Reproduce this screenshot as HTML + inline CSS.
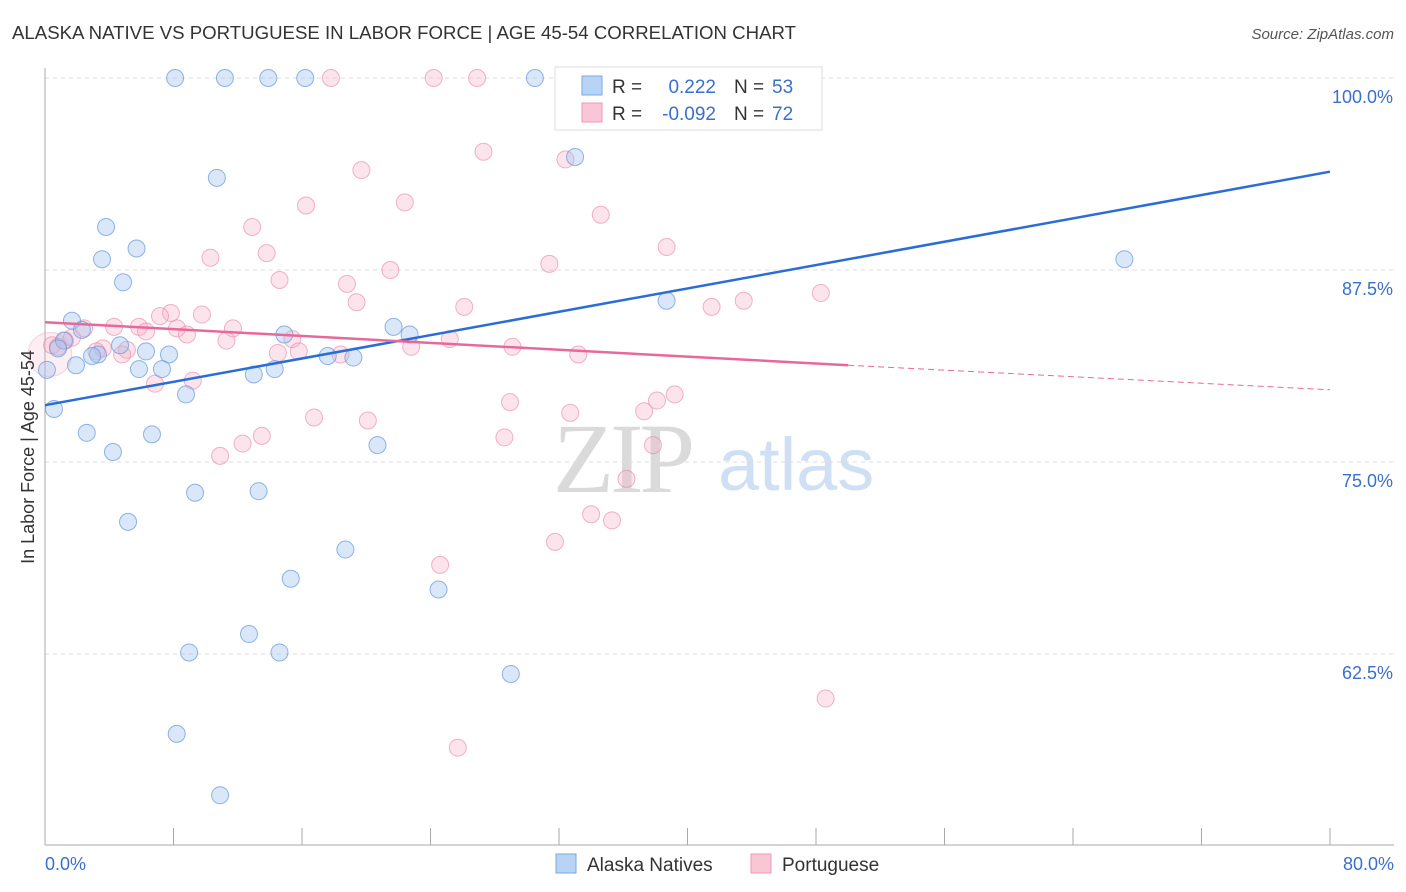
<!DOCTYPE html>
<html><head><meta charset="utf-8"><style>
body{margin:0;background:#fff;font-family:"Liberation Sans",sans-serif}
svg{display:block}
</style></head><body>
<svg id="chart" width="1406" height="892">
<text x="12" y="39" font-size="18" fill="#333" textLength="784" lengthAdjust="spacingAndGlyphs">ALASKA NATIVE VS PORTUGUESE IN LABOR FORCE | AGE 45-54 CORRELATION CHART</text>
<text x="1394" y="39" font-size="15" fill="#555" font-style="italic" text-anchor="end">Source: ZipAtlas.com</text>
<g>
<text x="553" y="492" font-size="100" fill="#dadada" font-family="Liberation Serif,serif" letter-spacing="-4">ZIP</text>
<text x="718" y="490" font-size="74" fill="#d0e0f4">atlas</text>
</g>
<g id="grid"></g><g id="axes"></g><g id="marks"></g>
<text transform="translate(34,457) rotate(-90)" font-size="18" fill="#333" text-anchor="middle">In Labor Force | Age 45-54</text>
<g>
<rect x="555" y="67" width="267" height="63" fill="#fff" stroke="#ddd"/>
<rect x="582" y="76" width="20" height="19" fill="#b8d4f5" stroke="#7aa8e0"/>
<rect x="582" y="103" width="20" height="19" fill="#f9c6d6" stroke="#ee9ab4"/>
<text x="612" y="93" font-size="19" fill="#333">R =</text><text x="716" y="93" font-size="19" fill="#3a6fcc" text-anchor="end">0.222</text>
<text x="734" y="93" font-size="19" fill="#333">N =</text><text x="772" y="93" font-size="19" fill="#3a6fcc">53</text>
<text x="612" y="120" font-size="19" fill="#333">R =</text><text x="716" y="120" font-size="19" fill="#3a6fcc" text-anchor="end">-0.092</text>
<text x="734" y="120" font-size="19" fill="#333">N =</text><text x="772" y="120" font-size="19" fill="#3a6fcc">72</text>
</g>
<g>
<rect x="556" y="854" width="20" height="19" fill="#b8d4f5" stroke="#7aa8e0"/>
<text x="587" y="871" font-size="19" fill="#333">Alaska Natives</text>
<rect x="751" y="854" width="20" height="19" fill="#f9c6d6" stroke="#ee9ab4"/>
<text x="782" y="871" font-size="19" fill="#333">Portuguese</text>
</g>
</svg>
<script>
const xTicks=[0,8,16,24,32,40,48,56,64,72,80];
const yTicks=[62.5,75,87.5,100];
const yTickLabels=["62.5%","75.0%","87.5%","100.0%"];
const blueX=[8.1,11.2,13.9,16.2,30.5,33.0,10.7,3.8,5.7,3.55,4.86,67.2,38.7,1.68,2.3,1.18,0.81,3.3,2.93,4.67,6.29,7.72,0.12,1.93,5.85,7.28,8.78,13.0,14.3,14.9,17.6,19.2,21.7,22.7,0.56,2.6,6.66,4.23,20.7,9.34,13.3,5.17,18.7,15.3,24.5,12.7,8.97,14.6,29.0,8.2,10.9,44.8];
const blueY=[100,100,100,100,100,94.86,93.5,90.3,88.9,88.2,86.7,88.2,85.5,84.2,83.6,82.9,82.4,82.0,81.9,82.6,82.2,82.0,81.0,81.3,81.05,81.05,79.4,80.7,81.05,83.3,81.9,81.8,83.8,83.3,78.45,76.9,76.8,75.65,76.1,73.0,73.1,71.1,69.3,67.4,66.7,63.8,62.6,62.6,61.2,57.3,53.3,100];
const pinkX=[17.8,24.2,26.9,45.2,27.3,32.4,19.7,34.6,22.4,16.25,12.9,38.7,13.8,10.3,31.4,21.5,14.6,18.8,19.4,26.1,41.5,43.5,48.3,7.84,7.16,9.77,11.7,4.3,5.85,6.29,8.22,8.84,11.3,15.4,25.2,1.25,1.68,2.43,0.44,0.81,3.6,5.1,4.8,3.2,6.85,9.2,14.5,15.8,18.4,22.8,29.1,33.2,28.95,16.75,20.1,32.7,37.3,38.1,39.2,12.3,13.5,10.9,28.6,37.85,36.2,34.0,35.3,31.75,24.6,48.6,25.7];
const pinkY=[100,100,100,100,95.2,94.7,94.0,91.1,91.9,91.7,90.3,89.0,88.6,88.3,87.9,87.5,86.85,86.6,85.4,85.1,85.1,85.5,86.0,84.7,84.5,84.6,83.7,83.8,83.8,83.5,83.7,83.3,82.9,83.0,83.0,82.9,83.1,83.7,82.6,82.5,82.4,82.3,82.0,82.2,80.1,80.3,82.1,82.2,82.0,82.5,82.5,82.0,78.9,77.9,77.7,78.2,78.3,79.0,79.4,76.2,76.7,75.4,76.6,76.1,73.9,71.6,71.2,69.8,68.3,59.6,56.4];
const blueLine=[[0,78.7],[80,93.9]];
const pinkLine=[[0,84.1],[50,81.3]];
const pinkDash=[[50,81.3],[80,79.7]];
const X=v=>45+v*1285/80, Y=v=>78+(100-v)*15.36;
const NS="http://www.w3.org/2000/svg";
function mk(p,t,a){const e=document.createElementNS(NS,t);for(const k in a)e.setAttribute(k,a[k]);p.appendChild(e);return e;}
const grid=document.getElementById('grid'),axes=document.getElementById('axes'),marks=document.getElementById('marks');
yTicks.forEach((v,i)=>{
 const l=mk(grid,'line',{x1:45,x2:1394,y1:Y(v),y2:Y(v),stroke:'#ddd','stroke-dasharray':'4,4'});
 
 
 const t=mk(axes,'text',{x:1393,y:Y(v)+25,'font-size':18,fill:'#3a6fcc','text-anchor':'end'});t.textContent=yTickLabels[i];
 
 
});
mk(axes,'line',{x1:45,x2:45,y1:68,y2:845,stroke:'#aaa'});
mk(axes,'line',{x1:45,x2:1394,y1:845,y2:845,stroke:'#aaa'});
xTicks.forEach(v=>{
 const l=mk(axes,'line',{x1:X(v),x2:X(v),y1:828,y2:845,stroke:'#aaa'});
 
 
});
const x0=mk(axes,'text',{x:45,y:870,'font-size':18,fill:'#3a6fcc'});x0.textContent='0.0%';


const x1=mk(axes,'text',{x:1394,y:870,'font-size':18,fill:'#3a6fcc','text-anchor':'end'});x1.textContent='80.0%';


const big=mk(marks,'circle',{cx:X(0.3),cy:Y(82),r:22,fill:'rgba(244,170,195,0.2)',stroke:'rgba(232,140,170,0.35)'});


pinkX.forEach((v,i)=>{
 const c=mk(marks,'circle',{cx:X(v),cy:Y(pinkY[i]),r:8.5,fill:'rgba(246,178,200,0.35)',stroke:'rgba(232,130,165,0.6)'});
 
 
});
blueX.forEach((v,i)=>{
 const c=mk(marks,'circle',{cx:X(v),cy:Y(blueY[i]),r:8.5,fill:'rgba(160,196,240,0.4)',stroke:'rgba(100,150,220,0.7)'});
 
 
});
const bl=mk(marks,'line',{x1:X(blueLine[0][0]),y1:Y(blueLine[0][1]),x2:X(blueLine[1][0]),y2:Y(blueLine[1][1]),stroke:'#2a6dd6','stroke-width':2.5});


const pl=mk(marks,'line',{x1:X(pinkLine[0][0]),y1:Y(pinkLine[0][1]),x2:X(pinkLine[1][0]),y2:Y(pinkLine[1][1]),stroke:'#e8689a','stroke-width':2.5});


const pd=mk(marks,'line',{x1:X(pinkDash[0][0]),y1:Y(pinkDash[0][1]),x2:X(pinkDash[1][0]),y2:Y(pinkDash[1][1]),stroke:'#e8689a','stroke-width':1,'stroke-dasharray':'6,4'});


</script>
</body></html>
